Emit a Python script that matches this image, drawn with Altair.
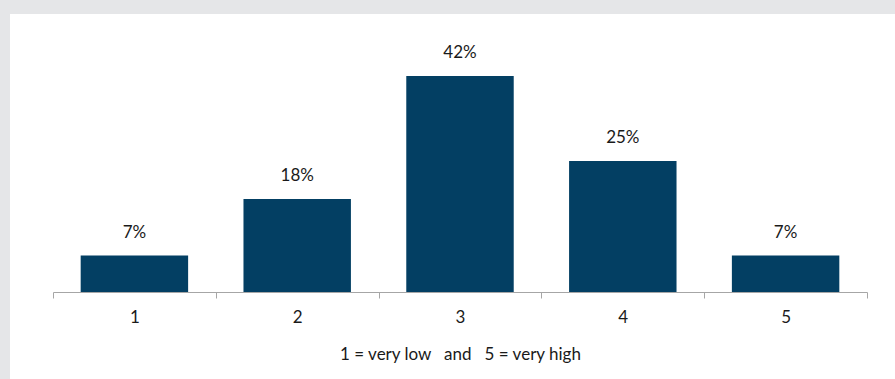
import altair as alt
import pandas as pd

categories = ["1", "2", "3", "4", "5"]
values = [7.1, 18.1, 42, 25.5, 7.1]
labels = ["7%", "18%", "42%", "25%", "7%"]

df = pd.DataFrame({"cat": categories, "val": values, "lab": labels})

FONT = "Lato"
TXT = "#1a1a1a"
BAR = "#033f63"
FS = 17
W, H = 814, 257
PL, PT = 53, 35

title_txt = "1 = very low\u00a0\u00a0 and \u00a0\u00a05 = very high"

base = alt.Chart(df)

panel = alt.Chart(pd.DataFrame({"a": [0]})).mark_rect(color="white").encode(
    x=alt.value(10 - PL), x2=alt.value(895 - PL),
    y=alt.value(14 - PT), y2=alt.value(379 - PT),
)

xenc = alt.X(
    "cat:N", sort=categories,
    scale=alt.Scale(paddingInner=0, paddingOuter=0),
    axis=alt.Axis(
        title=title_txt, labelAngle=0, tickBand="extent", zindex=1,
        domainColor="#a6a6a6", tickColor="#a6a6a6", tickSize=6,
        labelFontSize=FS, labelColor=TXT, labelFont=FONT, labelPadding=11,
        titleFontSize=FS, titleColor=TXT, titleFont=FONT, titleFontWeight="normal",
        titlePadding=21,
    ),
)

bars = base.mark_bar(color=BAR, width={"band": 0.66}).encode(
    x=xenc,
    y=alt.Y("val:Q", scale=alt.Scale(domain=[0, 50]), axis=None),
)

text = base.mark_text(baseline="alphabetic", dy=-18, fontSize=FS, font=FONT, color=TXT).encode(
    x=alt.X("cat:N", sort=categories),
    y=alt.Y("val:Q"),
    text="lab:N",
)

chart = alt.layer(panel, bars, text).properties(
    width=W, height=H,
    autosize=alt.AutoSizeParams(type="none"),
    padding={"left": PL, "top": PT, "right": 895 - PL - W, "bottom": 379 - PT - H},
    background="#e5e6e8",
).configure_view(stroke=None)

chart.save("out.html", embed_options={"renderer": "svg", "actions": False})
